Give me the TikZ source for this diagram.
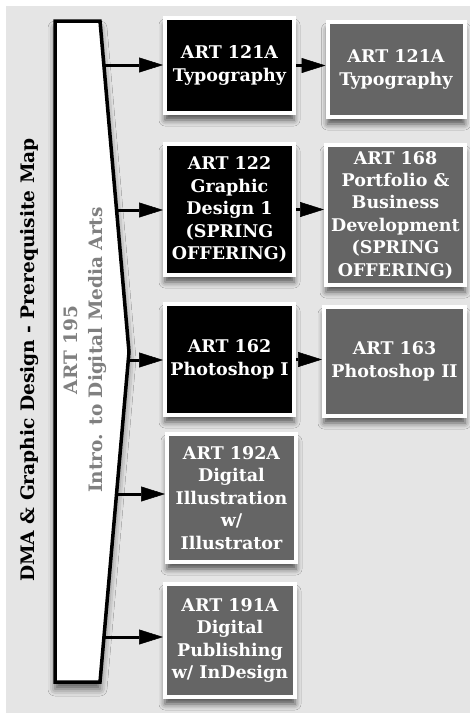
\documentclass[tikz,border=0pt]{standalone}
\usepackage{fontspec}
\setmainfont{DejaVu Serif}
\usetikzlibrary{arrows.meta,shadows.blur}
\definecolor{bggray}{HTML}{E5E5E5}
\definecolor{boxgray}{HTML}{656565}
\definecolor{txtgray}{HTML}{808080}
\tikzset{
  x=1pt,y=-1pt,
  course/.style={draw=white,line width=4pt,align=center,text=white,
    font=\fontsize{17.5}{22.4}\selectfont\bfseries,inner sep=0pt,
    blur shadow={shadow xshift=0pt,shadow yshift=-7pt,shadow blur radius=6pt,shadow opacity=65}},
  darkbox/.style={course,fill=black},
  graybox/.style={course,fill=boxgray},
  link/.style={line width=3pt,-{Triangle[length=24pt,width=15pt,fill=black,line width=0.5pt]}},
}
\begin{document}
\begin{tikzpicture}
\useasboundingbox (0,0) rectangle (470,713);
\fill[white] (0,0) rectangle (470,713);
\fill[bggray] (6,6) rectangle (470,713);
% main intro shape
\coordinate (p1) at (55,21);
\coordinate (p2) at (100,21);
\coordinate (p3) at (129,352);
\coordinate (p4) at (100,682);
\coordinate (p5) at (55,682);
\path[fill=white,draw=black,line width=3.5pt,line join=miter,
  blur shadow={shadow xshift=0pt,shadow yshift=-7pt,shadow blur radius=7pt,shadow opacity=60}]
  (p1) -- (p2) -- (p3) -- (p4) -- (p5) -- cycle;
\node[rotate=90,font=\fontsize{18.6}{22}\selectfont\bfseries] (title) at (30,360) {DMA \& Graphic Design - Prerequisite Map};
\node[rotate=90,align=center,text=txtgray,font=\fontsize{18.5}{25}\selectfont\bfseries] (intro) at (85,350) {ART 195\\Intro. to Digital Media Arts};
% courses
\node[darkbox,minimum width=129pt,minimum height=95pt] (b1) at (229.5,65.5) {ART 121A\\Typography};
\node[graybox,minimum width=137pt,minimum height=95pt] (b2) at (396,69.5) {ART 121A\\Typography};
\node[darkbox,minimum width=129pt,minimum height=131pt] (b3) at (229.5,209.5) {ART 122\\Graphic\\Design 1\\(SPRING\\OFFERING)};
\node[graybox,minimum width=139pt,minimum height=140pt] (b4) at (395.5,215) {ART 168\\Portfolio \&\\Business\\Development\\(SPRING\\OFFERING)};
\node[darkbox,minimum width=129pt,minimum height=111pt] (b5) at (229.5,359.5) {ART 162\\Photoshop I};
\node[graybox,minimum width=141pt,minimum height=109pt] (b6) at (394.5,361.5) {ART 163\\Photoshop II};
\node[graybox,minimum width=129pt,minimum height=128pt] (b7) at (231.5,498) {ART 192A\\Digital\\Illustration\\w/\\Illustrator};
\node[graybox,minimum width=130pt,minimum height=113pt] (b8) at (230,640.5) {ART 191A\\Digital\\Publishing\\w/ InDesign};
% arrow starts on intro shape
\coordinate (s1) at (104,65);
\coordinate (s2) at (116.5,210);
\coordinate (s3) at (128.5,360);
\coordinate (s4) at (116.5,494);
\coordinate (s5) at (104,637);
\draw[link] (s1) -- (s1 -| b1.west);
\draw[link] (s2) -- (s2 -| b3.west);
\draw[link] (s3) -- (s3 -| b5.west);
\draw[link] (s4) -- (s4 -| b7.west);
\draw[link] (s5) -- (s5 -| b8.west);
\draw[link] (b1.east) -- (b1.east -| b2.west);
\draw[link] (b3.east) -- (b3.east -| b4.west);
\draw[link] (b5.east) -- (b5.east -| b6.west);
\end{tikzpicture}
\end{document}
